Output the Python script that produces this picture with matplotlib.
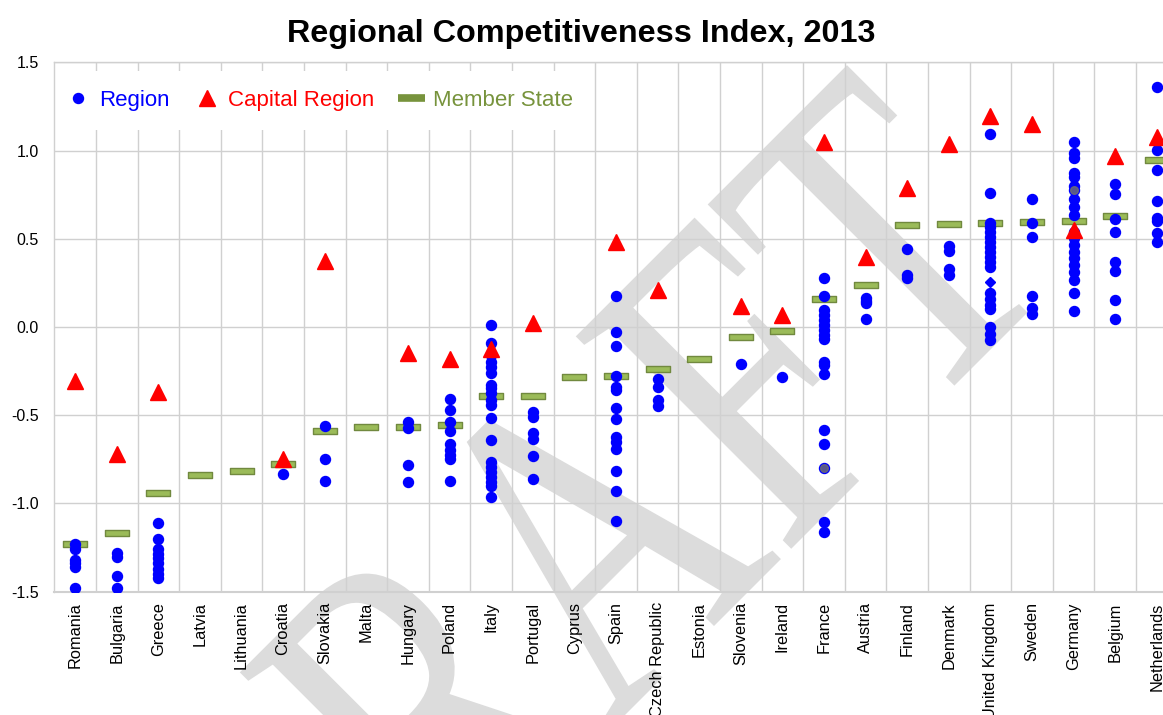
import numpy as np
import matplotlib
matplotlib.use('agg')
from matplotlib import pyplot as plt
from matplotlib.lines import Line2D
from matplotlib.path import Path
from matplotlib.patches import PathPatch
from matplotlib.textpath import TextPath
from matplotlib.font_manager import FontProperties
from matplotlib.transforms import Affine2D

plt.rcParams['font.family'] = ['Liberation Sans', 'DejaVu Sans']
plt.rcParams['axes.unicode_minus'] = False

countries = ['Romania', 'Bulgaria', 'Greece', 'Latvia', 'Lithuania', 'Croatia',
             'Slovakia', 'Malta', 'Hungary', 'Poland', 'Italy', 'Portugal',
             'Cyprus', 'Spain', 'Czech Republic', 'Estonia', 'Slovenia',
             'Ireland', 'France', 'Austria', 'Finland', 'Denmark',
             'United Kingdom', 'Sweden', 'Germany', 'Belgium', 'Netherlands']

member_state = [-1.228, -1.169, -0.939, -0.840, -0.818, -0.774, -0.591, -0.568,
                -0.565, -0.557, -0.389, -0.389, -0.285, -0.280, -0.238, -0.183,
                -0.059, -0.023, 0.157, 0.238, 0.576, 0.582, 0.591, 0.595,
                0.600, 0.631, 0.946]

capital = [-0.307, -0.718, -0.369, None, None, -0.749, 0.375, None, -0.148,
           -0.181, -0.126, 0.020, None, 0.479, 0.211, None, 0.117, 0.067,
           1.050, 0.394, 0.790, 1.038, 1.193, 1.149, 0.548, 0.970, 1.078]

regions = [
    [-1.23, -1.26, -1.32, -1.34, -1.36, -1.48],
    [-1.28, -1.305, -1.41, -1.48],
    [-1.11, -1.20, -1.26, -1.285, -1.31, -1.34, -1.37, -1.40, -1.42],
    [],
    [],
    [-0.833],
    [-0.563, -0.748, -0.873],
    [],
    [-0.537, -0.574, -0.782, -0.877],
    [-0.406, -0.472, -0.538, -0.588, -0.665, -0.697, -0.725, -0.750, -0.873],
    [0.011, -0.093, -0.159, -0.197, -0.225, -0.262, -0.329, -0.347, -0.376,
     -0.414, -0.442, -0.517, -0.640, -0.763, -0.791, -0.820, -0.848, -0.876,
     -0.901, -0.961],
    [-0.480, -0.508, -0.602, -0.636, -0.731, -0.859],
    [],
    [0.176, -0.026, -0.108, -0.278, -0.342, -0.357, -0.461, -0.521, -0.621,
     -0.650, -0.691, -0.814, -0.929, -1.099],
    [-0.295, -0.338, -0.414, -0.448],
    [],
    [-0.210],
    [-0.281],
    [0.276, 0.176, 0.096, 0.068, 0.040, 0.011, -0.017, -0.045, -0.070, -0.197,
     -0.215, -0.266, -0.584, -0.663, -1.103, -1.163],
    [0.163, 0.148, 0.134, 0.044],
    [0.444, 0.295, 0.276],
    [0.459, 0.432, 0.327, 0.295],
    [1.092, 0.757, 0.591, 0.568, 0.540, 0.512, 0.483, 0.455, 0.427, 0.398,
     0.370, 0.342, 0.191, 0.157, 0.125, 0.100, -0.002, -0.040, -0.074],
    [0.727, 0.591, 0.512, 0.178, 0.106, 0.074],
    [1.050, 0.984, 0.956, 0.874, 0.852, 0.799, 0.725, 0.682, 0.635, 0.540,
     0.502, 0.465, 0.427, 0.389, 0.351, 0.313, 0.266, 0.191, 0.092],
    [0.808, 0.754, 0.612, 0.540, 0.367, 0.319, 0.153, 0.045],
    [1.36, 1.005, 0.892, 0.715, 0.620, 0.600, 0.530, 0.483],
]

# regions plotted with a shaded marker
shaded_country = ['France', 'Germany']
shaded_value = [-0.797, 0.776]
# region plotted as a diamond
diamond_country = ['United Kingdom']
diamond_value = [0.253]

blue = '#0000FF'
red = '#FF0000'
green_fill = '#9BBB59'
green_edge = '#71893F'
green_text = '#77933C'
grid_c = '#D0D0D0'

fig = plt.figure(figsize=(11.63, 7.15), dpi=100)
ax = fig.add_axes([0.0467, 0.1724, 0.9658, 0.7405])
ax.set_facecolor('none')

# watermark, stretched vertically, behind the axes
tp = TextPath((0, 0), 'DRAFT', size=1,
              prop=FontProperties(family='Liberation Serif'))
ext = tp.get_extents()
wm_tr = (Affine2D().translate(-(ext.x0 + ext.x1) / 2, 0)
         .scale(342, 462).rotate_deg(45).translate(670, 45))
wm = PathPatch(tp, transform=wm_tr, facecolor='#DCDCDC', edgecolor='none',
               zorder=-5)
fig.add_artist(wm)

x = np.arange(len(countries))
idx = {c: i for i, c in enumerate(countries)}

# member state bars
bar = Path([(-2, -0.5), (2, -0.5), (2, 0.5), (-2, 0.5), (-2, -0.5)],
           [Path.MOVETO, Path.LINETO, Path.LINETO, Path.LINETO, Path.CLOSEPOLY])
ax.plot(x, member_state, ls='none', marker=bar, ms=17.5, mfc=green_fill,
        mec=green_edge, mew=1.0, zorder=3)

# regions
rx = [i for i, vals in enumerate(regions) for _ in vals]
ry = [v for vals in regions for v in vals]
ax.plot(rx, ry, ls='none', marker='o', ms=7.2, color=blue, zorder=4)
sx = [idx[c] for c in shaded_country]
ax.plot(sx, shaded_value, ls='none', marker='o', ms=7.2, color=blue, zorder=4)
ax.plot(sx, shaded_value, ls='none', marker='o', ms=5.5, color='#707070',
        alpha=0.8, zorder=4.1)
ax.plot([idx[c] for c in diamond_country], diamond_value, ls='none',
        marker='D', ms=5.0, color=blue, zorder=4)

# capital regions
cx = [i for i, v in enumerate(capital) if v is not None]
cy = [v for v in capital if v is not None]
ax.plot(cx, cy, ls='none', marker='^', ms=11.2, color=red, zorder=5)

ax.set_xlim(-0.5, len(countries) - 0.5)
ax.set_ylim(-1.5, 1.5)
ax.set_yticks(np.arange(-1.5, 1.51, 0.5))
ax.set_yticklabels(['%.1f' % v for v in np.arange(-1.5, 1.51, 0.5)])
ax.set_xticks(x)
ax.set_xticklabels(countries, rotation=90, va='top', ha='center')
ax.set_xticks(x[:-1] + 0.5, minor=True)
ax.tick_params(axis='both', which='both', length=0, labelsize=11.5,
               colors='black')
ax.tick_params(axis='x', labelsize=11.8, pad=7.5)
ax.tick_params(axis='y', pad=11)
ax.grid(True, axis='y', which='major', color=grid_c, lw=1.0)
ax.grid(True, axis='x', which='minor', color=grid_c, lw=1.0)
ax.set_axisbelow(True)
for s in ax.spines.values():
    s.set_color(grid_c)
    s.set_linewidth(1.0)
ax.spines['bottom'].set_linewidth(1.5)

handles = [
    Line2D([], [], ls='none', marker='o', ms=7.2, color=blue),
    Line2D([], [], ls='none', marker='^', ms=11.2, color=red),
    Line2D([], [], color=green_text, lw=5.5, solid_capstyle='butt'),
]
leg = ax.legend(handles, ['Region', 'Capital Region', 'Member State'],
                ncol=3, loc='upper left', bbox_to_anchor=(-0.0077, 0.9835),
                borderaxespad=0, frameon=True, facecolor='white',
                edgecolor='none', framealpha=1, fancybox=False,
                fontsize=16, handlelength=1.2, handletextpad=0.36,
                columnspacing=1.07, borderpad=0.85)
for t, c in zip(leg.get_texts(), [blue, red, green_text]):
    t.set_color(c)
leg.set_zorder(2.4)

fig.text(0.5, 1 - 34 / 715, 'Regional Competitiveness Index, 2013',
         ha='center', va='center', fontsize=23.3, fontweight='bold')

fig.savefig('out.png', dpi=100)
